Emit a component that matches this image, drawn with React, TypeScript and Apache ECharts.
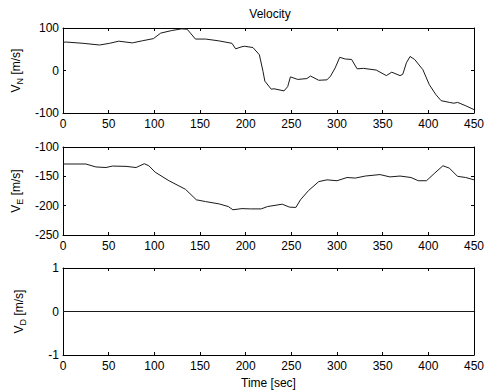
import React, { useEffect, useRef } from "react";
import * as echarts from "echarts";

const xTicks = [0, 50, 100, 150, 200, 250, 300, 350, 400, 450];

const vnTime = [0, 3, 22, 40, 51, 61, 76, 87, 99, 107, 119, 130, 136, 145, 156, 170, 185, 189, 196, 199, 208, 215, 219, 221, 228, 231, 242, 246, 249, 257, 267, 271, 280, 289, 293, 298, 303, 309, 316, 322, 329, 343, 354, 360, 369, 372, 376, 380, 385, 394, 401, 408, 414, 423, 428, 432, 441, 450];
const vnValues = [66, 67, 64, 60, 64, 69, 65, 70, 75, 88, 94, 98, 97, 74, 74, 70, 64, 51, 56, 57, 54, 37, -2, -25, -44, -43, -48, -38, -15, -21, -19, -13, -23, -22, -13, 6, 31, 27, 26, 4, 5, 1, -12, -4, -12, -9, 18, 33, 26, 2, -33, -56, -71, -75, -77, -75, -83, -92];

const veTime = [0, 25, 36, 47, 54, 69, 80, 89, 94, 101, 116, 134, 146, 156, 171, 181, 186, 196, 205, 217, 224, 240, 248, 255, 260, 269, 280, 289, 300, 311, 320, 331, 347, 358, 369, 381, 389, 398, 407, 416, 423, 432, 441, 450];
const veValues = [-129, -129, -134, -135, -132.5, -133, -135, -128.5, -132, -143, -157.5, -172, -190, -193, -197, -201.5, -207, -205, -205.5, -205.5, -201.5, -197.5, -202.5, -203, -190, -174, -159, -156, -157.5, -152, -153, -149.5, -147, -151, -149.5, -152, -157.5, -157.5, -144.5, -132, -136, -150, -152, -156];

const vdTime = [0, 450];
const vdValues = [0, 0];

const FONT = "Liberation Sans, Arial, sans-serif";

function pairs(t: number[], v: number[]) {
  return t.map((x, i) => [x, v[i]]);
}

const grids = [
  { left: 63, top: 28, width: 415, height: 85 },
  { left: 63, top: 147, width: 415, height: 88 },
  { left: 63, top: 268, width: 415, height: 87 },
];

const yRanges = [
  { min: -100, max: 100, interval: 100, sub: "N" },
  { min: -250, max: -100, interval: 50, sub: "E" },
  { min: -1, max: 1, interval: 1, sub: "D" },
];

export default function App() {
  const ref = useRef<HTMLDivElement>(null);
  useEffect(() => {
    if (!ref.current) return;
    const chart = echarts.init(ref.current, null, { renderer: "svg" });
    const lineStyle = { color: "#000", width: 1 };
    const xAxis: any[] = [];
    const yAxis: any[] = [];
    grids.forEach((g, i) => {
      xAxis.push({
        type: "value",
        gridIndex: i,
        min: 0,
        max: 450,
        interval: 50,
        position: "bottom",
        axisLine: { show: true, onZero: false, lineStyle },
        axisTick: { show: true, inside: true, length: 3, lineStyle },
        axisLabel: { show: true, color: "#000", fontFamily: FONT, fontSize: 12, margin: 5 },
        splitLine: { show: false },
        name: i === 2 ? "Time [sec]" : "",
        nameLocation: "middle",
        nameGap: 22,
        nameTextStyle: { color: "#000", fontFamily: FONT, fontSize: 12 },
      });
      xAxis.push({
        type: "value",
        gridIndex: i,
        min: 0,
        max: 450,
        interval: 50,
        position: "top",
        axisLine: { show: true, onZero: false, lineStyle },
        axisTick: { show: true, inside: true, length: 3, lineStyle },
        axisLabel: { show: false },
        splitLine: { show: false },
      });
      const r = yRanges[i];
      yAxis.push({
        type: "value",
        gridIndex: i,
        min: r.min,
        max: r.max,
        interval: r.interval,
        position: "left",
        axisLine: { show: true, onZero: false, lineStyle },
        axisTick: { show: true, inside: true, length: 3, lineStyle },
        axisLabel: { show: true, color: "#000", fontFamily: FONT, fontSize: 12, margin: 4 },
        splitLine: { show: false },
        name: `{v|V}{s|${r.sub}}{v| [m/s]}`,
        nameLocation: "middle",
        nameRotate: 90,
        nameGap: 36,
        nameTextStyle: {
          color: "#000",
          fontFamily: FONT,
          rich: {
            v: { fontFamily: FONT, fontSize: 12, color: "#000", verticalAlign: "middle", lineHeight: 16 },
            s: { fontFamily: FONT, fontSize: 9, color: "#000", verticalAlign: "bottom", lineHeight: 16 },
          },
        },
      });
      yAxis.push({
        type: "value",
        gridIndex: i,
        min: r.min,
        max: r.max,
        interval: r.interval,
        position: "right",
        axisLine: { show: true, onZero: false, lineStyle },
        axisTick: { show: true, inside: true, length: 3, lineStyle },
        axisLabel: { show: false },
        splitLine: { show: false },
      });
    });
    const mk = (i: number, data: number[][]) => ({
      type: "line",
      xAxisIndex: i * 2,
      yAxisIndex: i * 2,
      data,
      showSymbol: false,
      symbol: "none",
      lineStyle: { color: "#1a1a1a", width: 1 },
      silent: true,
    });
    chart.setOption({
      animation: false,
      backgroundColor: "#fff",
      title: {
        text: "Velocity",
        left: 270,
        top: 8,
        padding: 0,
        textAlign: "center",
        textStyle: { fontFamily: FONT, fontSize: 12, fontWeight: "normal", color: "#000" },
      },
      grid: grids,
      xAxis,
      yAxis,
      series: [
        mk(0, pairs(vnTime, vnValues)),
        mk(1, pairs(veTime, veValues)),
        mk(2, pairs(vdTime, vdValues)),
      ],
    });
    return () => chart.dispose();
  }, []);
  return (
    <div
      ref={ref}
      style={{ position: "fixed", left: 0, top: 0, width: 487, height: 392, background: "#fff" }}
    />
  );
}
